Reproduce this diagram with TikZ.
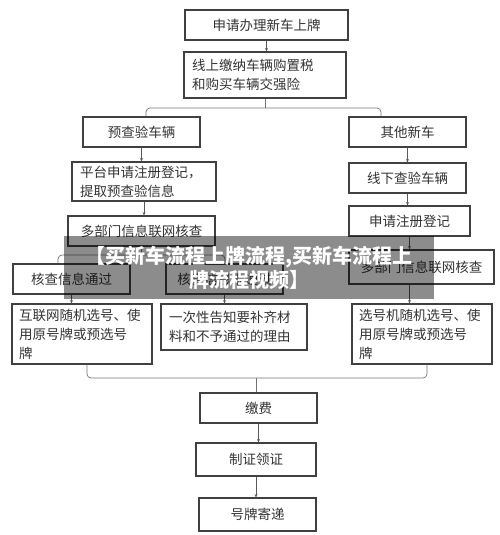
\documentclass[tikz,border=0pt]{standalone}
\usepackage{fontspec}
\newfontfamily\cjk{Noto Sans CJK SC}
\usepackage{tikz}
\usetikzlibrary{arrows.meta}
\tikzset{
    every node/.style={draw=black!75, line width=1.1pt, inner sep=0pt,
    	font=\cjk\fontsize{13.5}{19}\selectfont, text=black!80}
}
\tikzset{
    every edge/.append style={line width=0.7pt, draw=black!65,
    	-{Stealth[length=3.5pt,width=3pt]}}
}
\tikzset{
	bracket/.style={line width=0.7pt, draw=black!55, rounded corners=4pt}
}

\begin{document}
\begin{tikzpicture}[x=1pt, y=-1pt]
	\useasboundingbox (0,0) rectangle (500,535);
	\node (1) [minimum width=163pt, minimum height=30pt] at (266.5, 25) {申请办理新车上牌};
	\node (2) [minimum width=162pt, minimum height=46pt, text width=146pt, align=left] at (265, 75) {线上缴纳车辆购置税\\和购买车辆交强险};
	\node (3) [minimum width=117pt, minimum height=30pt] at (141.5, 132) {预查验车辆};
	\node (4) [minimum width=117pt, minimum height=30pt] at (407.5, 132) {其他新车};
	\node (5) [minimum width=144pt, minimum height=39pt, text width=128pt, align=left] at (144, 181.5) {平台申请注册登记，\\提取预查验信息};
	\node (6) [minimum width=147pt, minimum height=30pt] at (141.5, 231) {多部门信息联网核查};
	\node (7) [minimum width=117pt, minimum height=30pt] at (71.5, 279) {核查信息通过};
	\node (8) [minimum width=117pt, minimum height=30pt] at (224.5, 279) {核查信息未通过};
	\node (9) [minimum width=117pt, minimum height=30pt] at (407.5, 178) {线下查验车辆};
	\node (10) [minimum width=121pt, minimum height=30pt] at (409.5, 221) {申请注册登记};
	\node (11) [minimum width=145pt, minimum height=34pt] at (421.5, 267) {多部门信息联网核查};
	\node (12) [minimum width=140pt, minimum height=60pt, text width=126pt, align=left] at (82, 334) {互联网随机选号、使\\用原号牌或预选号\\牌};
	\node (13) [minimum width=146pt, minimum height=46pt, text width=130pt, align=left] at (234, 327) {一次性告知要补齐材\\料和不予通过的理由};
	\node (14) [minimum width=140pt, minimum height=60pt, text width=126pt, align=left] at (422, 334) {选号机随机选号、使\\用原号牌或预选号\\牌};
	\node (15) [minimum width=117pt, minimum height=30pt] at (258.5, 408) {缴费};
	\node (16) [minimum width=120pt, minimum height=33pt] at (256, 459.5) {制证领证};
	\node (17) [minimum width=117pt, minimum height=33pt] at (257.5, 514.5) {号牌寄递};

	% single steps
	\draw (1.south) edge (1.south |- 2.north);
	\draw (3.south) edge (3.south |- 5.north); \draw (5.south) edge (5.south |- 6.north);
	\draw (4.south) edge (4.south |- 9.north); \draw (9.south) edge (9.south |- 10.north);
	\draw (10.south) edge (10.south |- 11.north); \draw (10.south |- 11.south) edge (10.south |- 14.north);
	\draw (7.south) edge (7.south |- 12.north); \draw (8.south) edge (8.south |- 13.north);
	\draw (15.south) edge (15.south |- 16.north); \draw (16.south) edge (16.south |- 17.north);

	% split and join
	\coordinate (a) at (146, 108); \coordinate (b) at (381, 108);
	\draw[bracket] (3.north -| a) -- (a) -- (b) -- (4.north -| b);
	\draw[bracket] (2.south) -- (2.south |- a);
	\coordinate (c) at (58, 255); \coordinate (d) at (225, 255);
	\draw[bracket] (7.north -| c) -- (c) -- (d) -- (8.north -| d);
	\draw[bracket] (6.south) -- (6.south |- c);
	\coordinate (e) at (87, 378); \coordinate (f) at (427, 378); \coordinate (g) at (256, 378);
	\draw[bracket] (12.south -| e) -- (e) -- (f) -- (14.south -| f);
	\draw[bracket] (g) -- (g |- 15.north);

	\node (w) [draw=none, fill=black, fill opacity=0.45, text opacity=1, text=white,
		font=\cjk\bfseries\fontsize{20}{24}\selectfont, minimum width=370pt,
		minimum height=63pt, align=center] at (249, 267.5) {【买新车流程上牌流程,买新车流程上\\牌流程视频】};
\end{tikzpicture}
\end{document}
